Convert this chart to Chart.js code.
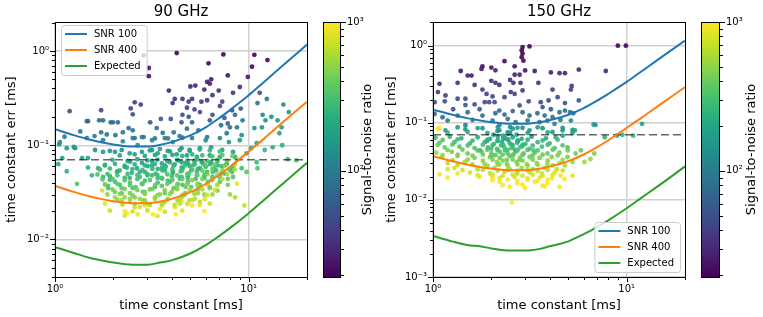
<!DOCTYPE html>
<html>
<head>
<meta charset="utf-8">
<script src="https://cdn.jsdelivr.net/npm/chart.js@4.4.0/dist/chart.umd.min.js"></script>
<style>
  body { margin: 0; background: #fff; }
  #wrap { position: relative; width: 763px; height: 317px; overflow: hidden; }
  #wrap canvas { position: absolute; top: 0; }
</style>
</head>
<body>
<div id="wrap">
  <canvas id="main90" width="320" height="317" style="left:0px"></canvas>
  <canvas id="main150" width="320" height="317" style="left:380px"></canvas>
  <canvas id="cbar90" width="80" height="317" style="left:300px"></canvas>
  <canvas id="cbar150" width="83" height="317" style="left:680px"></canvas>
</div>
<script>
// ========== DONNÉES ==========
const timeGrid = [1, 1.25, 1.5, 1.75, 2, 2.5, 3, 3.5, 4, 5, 6, 7, 8, 10, 12, 15, 20];
const snr100Err = [0.148, 0.128, 0.115, 0.107, 0.102, 0.097, 0.097, 0.101, 0.108, 0.127, 0.155, 0.192, 0.236, 0.339, 0.47, 0.70, 1.17];
const snr400Err = [0.037, 0.032, 0.0288, 0.0268, 0.0255, 0.0243, 0.0243, 0.0253, 0.027, 0.0318, 0.0388, 0.048, 0.059, 0.086, 0.1175, 0.175, 0.29];
const expected90 = [0.0083, 0.0072, 0.0064, 0.006, 0.0057, 0.0054, 0.0054, 0.0057, 0.006, 0.0071, 0.0087, 0.0108, 0.0132, 0.019, 0.0263, 0.039, 0.065];
const expected150 = [0.0034, 0.0029, 0.0026, 0.0025, 0.00235, 0.0022, 0.0022, 0.0023, 0.0025, 0.0029, 0.0036, 0.0044, 0.0054, 0.0078, 0.0108, 0.016, 0.0272];
const dashedLevel = 0.07;

const xTicks = [1, 10];
const yTicks90 = [0.01, 0.1, 1];
const yTicks150 = [0.001, 0.01, 0.1, 1];
const cbarTicks = [100, 1000];
const snrMin = 19.3;
const snrMax = 1000;

// [time constant, err, SNR]
const points90 = [
  [2.87,0.90,20],[4.25,0.95,20],[3.05,0.66,22],[3.05,0.54,24],[3.87,0.38,28],[4.15,0.31,32],[4.05,0.28,34],[2.58,0.285,38],
  [2.77,0.27,38],[2.46,0.246,42],[2.52,0.213,48],[1.19,0.23,55],[1.73,0.235,50],[1.48,0.18,72],[1.77,0.184,72],[1.94,0.175,74],
  [2.11,0.175,74],[3.1,0.175,58],[3.52,0.19,55],[3.96,0.19,55],[3.35,0.152,84],[2.52,0.144,86],[2.24,0.137,90],[1.85,0.13,94],
  [2.81,0.122,96],[3.28,0.118,98],[4.1,0.137,90],[3.83,0.118,98],
  [7.4,0.92,20],[10.7,0.91,20],[12.5,0.80,21],[6.2,0.74,21],[10.4,0.68,22],[7.8,0.55,24],[6.4,0.50,25],[9.9,0.53,25],
  [6.1,0.47,26],[6.3,0.45,27],[5.3,0.43,28],[5.0,0.42,28],[9.0,0.415,32],[5.9,0.39,30],[7.0,0.38,31],[8.3,0.36,34],
  [6.5,0.34,34],[11.4,0.36,45],[4.55,0.31,35],[4.9,0.29,36],[5.1,0.31,35],[5.7,0.29,37],[6.1,0.30,36],[7.3,0.29,40],
  [4.8,0.25,42],[5.25,0.24,43],[5.6,0.225,46],[7.1,0.26,44],[8.2,0.235,52],[9.1,0.245,55],[11.1,0.28,84],[12.4,0.31,90],
  [15.1,0.27,138],[16.1,0.225,160],[4.55,0.21,48],[4.9,0.20,50],[6.5,0.21,52],[7.5,0.195,58],[8.5,0.21,72],[4.5,0.175,56],
  [5.1,0.175,58],[6.3,0.184,58],[7.8,0.17,78],[9.3,0.184,90],[11.8,0.21,130],[12.2,0.184,145],[13.1,0.20,145],[14.1,0.184,160],
  [4.8,0.15,79],[5.5,0.144,84],[7.2,0.163,79],[8.7,0.155,94],[10.7,0.152,145],[11.7,0.155,152],[14.8,0.155,188],[14.4,0.134,203],
  [7.7,0.134,96],[9.2,0.128,138],[8.0,0.155,86],[6.1,0.122,98],
  [1.05,0.102,138],[1.25,0.096,145],[1.46,0.18,74],[1.69,0.184,72],[1.73,0.137,90],[1.99,0.175,74],[2.4,0.152,82],[2.52,0.119,102],
  [2.87,0.122,98],[1.12,0.123,96],[1.35,0.14,86],[1.6,0.125,96],[2.05,0.128,94],[3.6,0.135,90],[4.4,0.125,96],
  [1.06,0.108,130],[1.46,0.119,102],[1.77,0.113,106],[2.24,0.11,130],[2.58,0.119,102],[3.17,0.113,106],[3.69,0.119,102],[4.05,0.108,133],
  [2.67,0.1,138],[1.15,0.093,145],[1.27,0.093,145],[1.61,0.089,152],[1.77,0.085,160],[1.92,0.087,160],[2.04,0.085,160],[2.21,0.089,152],
  [2.43,0.082,167],[2.81,0.085,160],[3.17,0.089,152],[3.39,0.082,167],[3.82,0.087,160],[4.25,0.080,171],[1.09,0.073,181],[1.38,0.073,181],
  [1.48,0.073,181],[1.04,0.063,218],[1.15,0.053,247],[1.30,0.039,334],[1.48,0.058,218],[1.55,0.048,254],[1.67,0.057,218],[1.81,0.061,203],
  [1.77,0.046,254],[1.92,0.043,268],[1.88,0.035,334],[2.09,0.052,232],[2.16,0.038,305],[2.21,0.031,377],[2.35,0.058,203],[2.43,0.045,254],
  [2.52,0.035,319],[2.58,0.028,435],[2.74,0.052,225],[2.81,0.039,290],[2.84,0.032,363],[2.91,0.026,479],[3.0,0.048,239],[3.17,0.061,203],
  [3.28,0.036,319],[3.39,0.045,261],[3.56,0.057,218],[3.69,0.031,392],[3.92,0.041,290],[4.05,0.052,239],[4.15,0.035,754],[4.3,0.026,551],
  [1.75,0.033,754],[1.81,0.024,899],[2.29,0.020,1000],[2.35,0.019,1000],[2.67,0.0185,943],[3.2,0.0185,1000],[4.2,0.0185,1000],[2.91,0.023,812],
  [3.56,0.023,682],[2.21,0.026,609],[2.04,0.028,551],[2.58,0.022,754],
  [4.55,0.12,98],[5.1,0.119,102],[6.0,0.113,133],[7.1,0.119,138],[7.9,0.108,160],[9.0,0.113,174],[11.0,0.105,203],[12.1,0.089,247],
  [13.3,0.095,232],[14.9,0.1,232],[4.5,0.093,145],[4.95,0.089,152],[5.6,0.093,152],[6.4,0.095,160],[7.3,0.089,174],[8.3,0.085,189],
  [9.75,0.082,218],[10.3,0.093,203],[4.8,0.078,174],[5.4,0.075,181],[6.3,0.078,181],[7.1,0.075,196],[8.5,0.075,218],[15.9,0.071,319],
  [17.6,0.069,363],[11.0,0.066,290],[11.1,0.057,334],[4.5,0.066,196],[4.85,0.064,203],[5.25,0.068,196],[5.8,0.064,210],[6.4,0.066,218],
  [6.9,0.061,232],[7.7,0.064,247],[8.3,0.058,276],[9.2,0.057,305],[9.75,0.052,348],[4.55,0.057,225],[5.05,0.054,239],[5.6,0.057,232],
  [6.1,0.052,261],[6.8,0.054,261],[7.5,0.050,290],[8.3,0.046,334],[4.5,0.046,261],[4.85,0.045,276],[5.4,0.048,276],[5.9,0.045,290],
  [6.5,0.046,305],[7.1,0.041,348],[7.8,0.038,406],[8.7,0.039,870],[4.55,0.038,319],[5.05,0.036,363],[5.6,0.038,363],[6.3,0.036,406],
  [6.9,0.033,464],[4.7,0.031,435],[5.25,0.031,479],[5.9,0.030,508],[6.5,0.030,537],[4.95,0.026,609],[5.6,0.025,667],[6.3,0.024,725],
  [4.5,0.025,899],[5.1,0.023,957],[5.9,0.020,1000],[8.0,0.030,551],[8.5,0.028,609],[9.5,0.023,696],
  [2.44,0.067,189],[2.81,0.065,189],[3.17,0.068,189],[3.56,0.064,196],[3.92,0.066,203],[4.3,0.069,196],[4.73,0.065,203],[5.2,0.062,218],
  [5.71,0.067,210],[6.3,0.063,225],[6.9,0.068,232],[7.6,0.062,254],
  [2.29,0.059,210],[2.65,0.057,218],[3.01,0.060,210],[3.39,0.056,225],[3.73,0.059,218],[4.1,0.061,218],[4.51,0.058,232],[4.96,0.060,232],
  [5.46,0.056,247],[6.0,0.059,247],[6.6,0.057,261],[7.25,0.060,268],[7.98,0.055,290],
  [2.11,0.053,232],[2.49,0.051,239],[2.91,0.052,239],[3.31,0.050,247],[3.69,0.054,239],[4.06,0.051,254],[4.46,0.053,254],[4.9,0.050,268],
  [5.4,0.052,268],[5.93,0.049,290],[6.53,0.052,290],[7.18,0.050,312],[8.2,0.052,319],
  [1.92,0.047,254],[2.29,0.045,268],[2.74,0.046,268],[3.17,0.048,261],[3.56,0.045,276],[4.01,0.047,276],[4.41,0.044,297],[4.85,0.047,290],
  [5.33,0.044,312],[5.87,0.046,319],[6.45,0.043,341],[7.09,0.046,341],[7.8,0.044,377],
  [2.04,0.041,290],[2.44,0.040,305],[2.91,0.042,297],[3.39,0.040,312],[3.82,0.042,312],[4.3,0.039,334],[4.85,0.041,341],[5.46,0.039,363],
  [6.15,0.041,377],[6.9,0.038,413],
  [1.88,0.037,334],[2.21,0.035,355],[2.61,0.036,348],[3.09,0.034,377],[3.56,0.037,355],[4.1,0.035,384],[4.73,0.036,392],[5.46,0.034,435],
  [6.3,0.035,450],
  [2.04,0.032,406],[2.44,0.031,435],[2.91,0.032,421],[3.48,0.030,464],[4.01,0.032,450],[4.68,0.030,493],[5.46,0.031,508],
  [2.29,0.028,522],[2.74,0.027,551],[3.28,0.028,537],[3.82,0.027,580],[4.51,0.028,580],[5.27,0.027,638],
  [2.44,0.025,624],[3.01,0.024,682],[3.69,0.025,667],[4.41,0.024,725],[2.74,0.022,812],[3.48,0.021,899],[4.15,0.022,870],
  [3.09,0.088,161],[3.48,0.091,162],[3.92,0.086,180],[4.41,0.089,189],[4.96,0.087,210],[5.59,0.090,228],[6.30,0.088,264],[7.09,0.086,312],
  [2.16,0.078,183],[2.58,0.080,175],[2.91,0.077,183],[3.28,0.079,181],[3.69,0.076,199],[4.04,0.079,199],[4.54,0.077,220],[5.11,0.080,235],
  [5.76,0.078,270],[6.49,0.076,319],[7.31,0.079,360],[8.23,0.077,428],
  [1.98,0.070,212],[2.37,0.068,207],[2.66,0.071,199],[3.0,0.069,204],[3.38,0.0705,204],[3.80,0.068,225],[4.28,0.070,232],[4.82,0.0685,258],
  [5.43,0.071,278],[6.11,0.068,326],[6.88,0.070,370],[7.75,0.0685,442],[8.73,0.070,500],
  [1.81,0.062,246],[2.04,0.0635,229],[2.29,0.0608,233],[2.58,0.0628,223],[2.91,0.061,231],[3.28,0.0632,228],[3.69,0.0612,246],[4.15,0.0625,255],
  [4.68,0.0605,287],[5.27,0.063,306],[5.93,0.0615,354],[6.68,0.0622,400],[7.52,0.0608,477],[8.47,0.0628,536],
  [1.71,0.055,284],[1.92,0.0565,262],[2.16,0.054,265],[2.51,0.0558,252],[2.83,0.0545,258],[3.18,0.056,254],[3.58,0.054,273],[4.04,0.0562,278],
  [4.54,0.0542,307],[5.11,0.0555,331],[5.76,0.0538,380],[6.49,0.056,435],[7.31,0.0545,515],[8.47,0.0552,609],
  [1.657,0.049,326],[1.865,0.0498,305],[2.10,0.048,302],[2.37,0.0495,284],[2.66,0.0482,291],[3.0,0.0497,284],[3.38,0.0483,297],[3.80,0.0492,307],
  [4.28,0.0478,338],[4.82,0.0495,355],[5.43,0.0485,406],[6.11,0.0492,452],[6.88,0.048,529],[7.75,0.0495,602],
  [1.76,0.0433,355],[1.98,0.044,336],[2.29,0.0425,334],[2.66,0.0438,320],[3.09,0.0428,332],[3.58,0.0442,334],[4.04,0.0427,367],[4.54,0.0436,389],
  [5.11,0.0426,435],[5.76,0.0437,471],[6.49,0.0428,558],[7.31,0.0438,631],
  [1.81,0.0383,399],[2.10,0.039,374],[2.44,0.0377,373],[2.83,0.0388,363],[3.28,0.0378,380],[3.80,0.0387,394],[4.28,0.0376,435],[4.82,0.0386,461],
  [5.43,0.0377,522],[6.11,0.0385,577],[6.88,0.0378,674],
  [1.98,0.0339,435],[2.29,0.0345,412],[2.66,0.0334,421],[3.18,0.0343,415],[3.69,0.0333,452],[4.28,0.0342,476],[4.96,0.0334,548],[5.76,0.0341,606],
  [6.68,0.0335,747],
  [1.865,0.030,508],[2.16,0.0305,471],[2.51,0.0296,476],[2.91,0.0304,464],[3.38,0.0296,493],[3.92,0.0303,513],[4.54,0.0297,571],[5.27,0.0303,631],
  [6.11,0.0297,747],
  [2.10,0.0266,544],[2.44,0.027,522],[2.83,0.0262,537],[3.28,0.0269,534],[3.80,0.0263,580],[4.41,0.0268,621],[5.11,0.0262,711],[5.93,0.0268,805],
  [2.23,0.0235,609],[2.58,0.0239,589],[3.09,0.0232,612],[3.58,0.0238,616],[4.15,0.0233,689],[4.82,0.0238,747],[5.59,0.0232,885],
  [1.92,0.0202,732],[2.51,0.0198,711],[3.0,0.0203,700],[3.69,0.0197,766],[4.54,0.0202,827],[2.29,0.018,812],[3.38,0.0178,819]
];

const points150 = [
  [2.9,0.96,19.5],[2.87,0.87,20],[2.9,0.79,20],[2.87,0.71,21],[2.93,0.64,22],[3.15,0.98,20],[2.99,0.478,24],[2.34,0.63,22],
  [1.8,0.54,24],[1.78,0.5,25],[2.0,0.52,25],[2.64,0.54,24],[1.39,0.47,26],[1.51,0.41,28],[1.58,0.41,28],[2.1,0.48,27],
  [3.35,0.47,26],[2.64,0.42,28],[2.8,0.42,28],[2.5,0.36,31],[1.34,0.33,33],[1.64,0.31,34],[2.0,0.35,32],[2.1,0.33,33],
  [2.2,0.31,34],[2.6,0.33,33],[2.83,0.33,33],[3.5,0.33,33],[4.06,0.45,27],[1.08,0.32,34],[1.06,0.25,38],[1.16,0.226,40],
  [1.8,0.27,38],[1.89,0.237,40],[2.03,0.22,42],[2.52,0.25,38],[2.64,0.237,40],[2.9,0.263,38],[2.34,0.215,42],[1.34,0.205,45],
  [1.47,0.205,45],[3.12,0.19,45],[3.6,0.185,46],[3.95,0.195,44],[1.02,0.185,48],[1.15,0.19,48],[1.85,0.185,48],[1.95,0.185,48],
  [2.08,0.185,48],[1.64,0.173,50],[1.47,0.17,52],[2.8,0.168,52],[3.68,0.16,55],[1.27,0.15,58],[1.74,0.15,56],[2.2,0.144,72],
  [2.58,0.142,72],[4.06,0.15,58],[1.02,0.13,74],[1.12,0.118,78],[1.34,0.124,78],[1.51,0.137,74],[1.8,0.124,79],[2.1,0.133,78],
  [2.34,0.128,78],[2.9,0.137,74],[3.15,0.124,82],[3.46,0.133,79],[3.77,0.124,82],[4.14,0.118,84],[1.19,0.107,90],[1.6,0.109,90],
  [2.03,0.107,90],[2.43,0.112,86],[2.67,0.102,94],[3.08,0.107,90],[3.55,0.102,94],[3.9,0.107,90],[4.24,0.097,96],[2.2,0.093,102],
  [2.5,0.088,128],[2.9,0.086,130],[1.47,0.093,102],[1.08,0.085,1000],[1.34,0.088,870],
  [9.0,1.0,20],[9.9,1.0,20],[4.5,0.44,28],[4.8,0.44,28],[5.66,0.49,27],[7.8,0.47,30],[5.2,0.30,38],[5.15,0.27,40],
  [4.14,0.27,38],[4.4,0.215,45],[4.8,0.18,52],[5.66,0.195,55],[4.5,0.137,82],[4.8,0.144,79],[5.1,0.137,84],[5.3,0.133,86],
  [5.15,0.107,130],[4.55,0.109,102],[6.9,0.094,160],[12.0,0.097,189],[5.25,0.081,160],[4.67,0.086,145],[6.75,0.095,160],[8.9,0.068,247],
  [10.8,0.068,276],[9.5,0.07,254],
  [1.16,0.08,160],[1.47,0.082,145],[1.8,0.085,138],[2.2,0.08,145],[2.58,0.084,138],[3.15,0.08,145],[3.68,0.085,138],[4.14,0.076,160],
  [1.06,0.084,943],
  [1.03,0.064,290],[1.22,0.066,247],[1.40,0.063,232],[1.70,0.065,203],[1.97,0.062,203],[2.16,0.066,189],[2.37,0.063,196],[2.58,0.065,189],
  [2.87,0.062,203],[3.23,0.066,196],[3.83,0.063,218],[4.3,0.065,232],
  [1.08,0.055,348],[1.29,0.056,290],[1.55,0.054,261],[1.85,0.056,239],[2.06,0.053,247],[2.27,0.056,232],[2.49,0.054,239],[2.72,0.055,239],
  [3.0,0.053,254],[3.47,0.056,254],[4.0,0.054,276],
  [1.15,0.048,406],[1.37,0.049,348],[1.64,0.047,319],[1.92,0.048,297],[2.14,0.046,305],[2.33,0.049,283],[2.55,0.047,290],[2.81,0.048,290],
  [3.15,0.046,312],[3.65,0.049,305],[4.25,0.047,341],
  [1.04,0.041,522],[1.25,0.042,435],[1.51,0.040,406],[1.78,0.042,355],[2.0,0.040,355],[2.21,0.042,341],[2.43,0.040,348],[2.67,0.042,341],
  [2.94,0.040,355],[3.35,0.041,370],[3.9,0.040,392],[4.5,0.041,421],
  [1.11,0.036,580],[1.34,0.037,493],[1.64,0.035,450],[1.97,0.036,406],[2.21,0.035,406],[2.49,0.037,384],[2.81,0.035,406],[3.15,0.036,413],
  [3.55,0.035,435],[4.1,0.036,450],
  [1.19,0.030,667],[1.46,0.031,580],[1.85,0.029,522],[2.14,0.031,479],[2.41,0.029,493],[2.7,0.031,464],[3.05,0.029,508],[3.43,0.030,508],
  [3.9,0.029,551],[4.5,0.030,580],
  [1.29,0.026,754],[1.7,0.025,638],[2.08,0.026,566],[2.49,0.025,580],[2.87,0.026,551],[3.27,0.025,609],[3.77,0.026,624],[4.36,0.025,696],
  [1.55,0.0226,783],[1.97,0.022,696],[2.34,0.0232,638],[2.72,0.022,682],[3.15,0.0228,667],[3.65,0.022,754],[4.25,0.0225,812],
  [1.19,0.0195,1000],[1.74,0.020,899],[2.21,0.0192,841],[2.64,0.0198,812],[3.08,0.019,870],[3.55,0.0195,899],[4.1,0.019,986],
  [2.21,0.017,1000],[2.72,0.0165,1000],[3.35,0.0172,1000],[3.9,0.0166,1000],[2.49,0.0148,1000],[2.98,0.0143,1000],[3.77,0.015,1000],
  [2.55,0.0093,1000],[1.08,0.0214,943],[1.19,0.025,812],[1.34,0.022,899],[2.03,0.0195,1000],
  [2.05,0.07,174],[2.15,0.058,218],[2.25,0.051,247],[2.35,0.044,290],[2.45,0.06,203],[2.55,0.052,239],[2.65,0.045,268],[2.75,0.058,218],
  [2.3,0.068,181],[2.5,0.075,167],[2.7,0.07,181],[2.0,0.046,290],[2.1,0.038,363],[2.6,0.039,348],[2.4,0.033,421],[2.8,0.033,435],
  [2.2,0.029,493],[2.3,0.062,203],[1.9,0.058,218],[2.9,0.05,268],[1.75,0.044,312],[3.3,0.044,334],[2.45,0.072,171],[2.15,0.078,160],
  [4.67,0.068,189],[5.25,0.074,181],[5.4,0.08,167],[4.67,0.08,160],[7.7,0.065,247],[5.8,0.044,377],[6.5,0.034,522],[6.8,0.04,464],
  [4.95,0.048,334],[4.95,0.036,435],[5.45,0.04,421],[5.25,0.031,551],[4.8,0.028,609],[4.56,0.0207,943],[4.78,0.0187,1000],[5.25,0.0207,899],
  [4.5,0.0147,1000],[6.05,0.031,580],
  [1.34,0.087,203],[1.70,0.0855,183],[2.16,0.088,165],[2.73,0.086,164],[3.47,0.0875,165],
  [1.19,0.0747,257],[1.51,0.076,218],[1.91,0.0735,204],[2.43,0.0755,189],[3.08,0.074,190],[3.91,0.0752,206],
  [1.122,0.0598,341],[1.34,0.061,290],[1.60,0.0588,273],[1.91,0.0605,249],[2.16,0.059,245],[2.43,0.0608,233],[2.73,0.0592,238],[3.08,0.0603,233],
  [3.68,0.059,254],[4.40,0.0604,278],
  [1.057,0.0515,409],[1.26,0.0522,352],[1.51,0.0508,325],[1.81,0.052,294],[2.03,0.051,290],[2.29,0.0523,273],[2.58,0.0509,276],[2.90,0.0521,270],
  [3.27,0.0507,283],[3.91,0.0519,299],[4.67,0.0511,344],
  [1.19,0.0443,432],[1.42,0.045,374],[1.70,0.0437,358],[1.91,0.0448,336],[2.16,0.0438,331],[2.43,0.0449,316],[2.73,0.0436,322],[3.08,0.0447,315],
  [3.47,0.0438,331],[4.15,0.0448,358],[4.96,0.0437,421],
  [1.122,0.0381,537],[1.34,0.0387,464],[1.60,0.0375,428],[1.81,0.0386,394],[2.03,0.0376,389],[2.29,0.0387,370],[2.58,0.0376,374],[2.90,0.0385,365],
  [3.27,0.0377,381],[3.68,0.0386,394],[4.40,0.0377,450],
  [1.26,0.0328,580],[1.51,0.0333,508],[1.81,0.0323,479],[2.03,0.0332,450],[2.29,0.0324,442],[2.58,0.0333,429],[2.90,0.0324,442],[3.27,0.0332,442],
  [3.91,0.0323,486],[4.67,0.0331,537],
  [1.34,0.0283,653],[1.60,0.0288,580],[1.91,0.0279,551],[2.16,0.0287,522],[2.43,0.0279,522],[2.73,0.0287,508],[3.08,0.0279,522],[3.47,0.0286,522],
  [4.15,0.028,580],
  [1.42,0.0243,754],[1.81,0.0247,653],[2.16,0.024,624],[2.43,0.0246,595],[2.73,0.0239,609],[3.08,0.0246,595],[3.47,0.0239,624],[3.91,0.0245,653],
  [4.67,0.024,740],
  [1.70,0.0209,841],[2.03,0.0213,783],[2.29,0.0206,769],[2.58,0.0212,754],[2.90,0.0206,769],[3.27,0.0212,754],[3.68,0.0206,812],[4.15,0.0211,856],
  [2.03,0.018,1000],[2.43,0.0183,986],[2.73,0.0177,1000],[3.08,0.0182,986],[3.47,0.0177,1000],[3.91,0.0182,1000],
  [2.29,0.0155,1000],[2.90,0.0158,1000],[3.68,0.0153,1000]
];

// ========== UTILITAIRES ==========
Chart.defaults.font.family = "'DejaVu Sans', sans-serif";
Chart.defaults.color = "#000";
Chart.defaults.animation = false;

const VIRIDIS = ["#440154", "#482475", "#414487", "#355f8d", "#2a788e", "#21918c",
  "#22a884", "#44bf70", "#7ad151", "#bddf26", "#fde725"];

function hexRgb(h) {
  return [1, 3, 5].map((i) => parseInt(h.substr(i, 2), 16));
}

function snrColor(v, alpha) {
  let t = (Math.log10(v) - Math.log10(snrMin)) / (Math.log10(snrMax) - Math.log10(snrMin));
  t = Math.min(1, Math.max(0, t));
  const f = t * 10;
  const i = Math.min(9, Math.floor(f));
  const k = f - i;
  const a = hexRgb(VIRIDIS[i]);
  const b = hexRgb(VIRIDIS[i + 1]);
  const c = a.map((x, j) => Math.round(x + (b[j] - x) * k));
  return `rgba(${c[0]},${c[1]},${c[2]},${alpha})`;
}

const SUP = { "-": "\u207b", "0": "\u2070", "1": "\u00b9", "2": "\u00b2", "3": "\u00b3" };
function powLabel(v) {
  const l = Math.log10(v);
  const r = Math.round(l);
  if (Math.abs(l - r) > 1e-6) return "";
  return "10" + String(r).split("").map((c) => SUP[c]).join("");
}

function logMarks(min, max) {
  const out = [];
  for (let e = Math.floor(Math.log10(min)); e <= Math.ceil(Math.log10(max)); e++) {
    for (let d = 1; d < 10; d++) {
      const v = d * Math.pow(10, e);
      if (v >= min * 0.999 && v <= max * 1.001) out.push({ v, major: d === 1 });
    }
  }
  return out;
}

// cadre noir + graduations façon matplotlib
const frameTicks = {
  id: "frameTicks",
  afterDatasetsDraw(chart, args, opts) {
    const { ctx, chartArea: a, scales } = chart;
    const L = Math.round(a.left), R = Math.round(a.right);
    const T = Math.round(a.top), B = Math.round(a.bottom);
    ctx.save();
    ctx.strokeStyle = "#000";
    ctx.lineWidth = 1;
    ctx.strokeRect(L + 0.5, T + 0.5, R - L, B - T);
    (opts.sides || []).forEach(({ axis, side }) => {
      const s = scales[axis];
      logMarks(s.min, s.max).forEach(({ v, major }) => {
        const p = Math.round(s.getPixelForValue(v)) + 0.5;
        const len = major ? 5 : 3;
        ctx.beginPath();
        if (side === "bottom") { ctx.moveTo(p, B); ctx.lineTo(p, B + len); }
        if (side === "left") { ctx.moveTo(L, p); ctx.lineTo(L - len, p); }
        if (side === "right") { ctx.moveTo(R + 1, p); ctx.lineTo(R + 1 + len, p); }
        ctx.stroke();
      });
    });
    ctx.restore();
  },
};

// légende encadrée dans la zone du graphe
const boxLegend = {
  id: "boxLegend",
  afterDraw(chart, args, opts) {
    if (!opts.corner) return;
    const { ctx, chartArea: a } = chart;
    const items = chart.data.datasets.filter((d) => d.inLegend);
    ctx.save();
    ctx.font = "10px 'DejaVu Sans'";
    const tw = Math.max(...items.map((d) => ctx.measureText(d.label).width));
    const w = 4 + 22 + 8 + tw + 5;
    const h = items.length * 16 + 2;
    const x = opts.corner === "tl" ? a.left + 6 : a.right - 5 - w;
    const y = opts.corner === "tl" ? a.top + 3 : a.bottom - 5 - h;
    ctx.beginPath();
    if (ctx.roundRect) ctx.roundRect(x + 0.5, y + 0.5, w, h, 3);
    else ctx.rect(x + 0.5, y + 0.5, w, h);
    ctx.fillStyle = "rgba(255,255,255,0.8)";
    ctx.fill();
    ctx.strokeStyle = "#cccccc";
    ctx.lineWidth = 1;
    ctx.stroke();
    items.forEach((d, i) => {
      const cy = y + 9 + i * 16;
      ctx.strokeStyle = d.borderColor;
      ctx.lineWidth = 2;
      ctx.beginPath();
      ctx.moveTo(x + 4, cy);
      ctx.lineTo(x + 26, cy);
      ctx.stroke();
      ctx.fillStyle = "#000";
      ctx.textBaseline = "middle";
      ctx.textAlign = "left";
      ctx.fillText(d.label, x + 33, cy + 0.5);
    });
    ctx.restore();
  },
};

// dégradé viridis + libellé vertical de la barre de couleur
const colorbar = {
  id: "colorbar",
  beforeDatasetsDraw(chart) {
    const { ctx, chartArea: a, scales } = chart;
    const y = scales.y;
    for (let py = Math.floor(a.top); py < Math.ceil(a.bottom); py++) {
      ctx.fillStyle = snrColor(y.getValueForPixel(py + 0.5), 1);
      ctx.fillRect(a.left, py, a.right - a.left, 1);
    }
  },
  afterDraw(chart, args, opts) {
    const { ctx, chartArea: a } = chart;
    ctx.save();
    ctx.translate(opts.labelX, (a.top + a.bottom) / 2);
    ctx.rotate(-Math.PI / 2);
    ctx.font = "13px 'DejaVu Sans'";
    ctx.fillStyle = "#000";
    ctx.textAlign = "center";
    ctx.textBaseline = "middle";
    ctx.fillText(opts.text, 0, 0);
    ctx.restore();
  },
};

function lineSet(label, values, color) {
  return {
    label,
    inLegend: true,
    data: timeGrid.map((t, i) => ({ x: t, y: values[i] })),
    showLine: true,
    borderColor: color,
    borderWidth: 2,
    pointRadius: 0,
    cubicInterpolationMode: "monotone",
  };
}

function panelChart(id, cfg) {
  return new Chart(document.getElementById(id), {
    type: "scatter",
    data: {
      datasets: [
        lineSet("SNR 100", snr100Err, "#1f77b4"),
        lineSet("SNR 400", snr400Err, "#ff7f0e"),
        lineSet("Expected", cfg.expected, "#2ca02c"),
        {
          label: "seuil",
          data: [{ x: 1, y: dashedLevel }, { x: 20, y: dashedLevel }],
          showLine: true,
          borderColor: "rgba(0,0,0,0.6)",
          borderDash: [8, 4],
          borderWidth: 1.5,
          pointRadius: 0,
        },
        {
          label: "mesures",
          data: cfg.points.map((p) => ({ x: p[0], y: p[1] })),
          showLine: false,
          pointRadius: 2.4,
          pointBorderWidth: 0,
          pointBackgroundColor: cfg.points.map((p) => snrColor(p[2], 0.9)),
        },
      ],
    },
    options: {
      responsive: false,
      devicePixelRatio: 1,
      events: [],
      layout: { padding: { right: cfg.padRight, left: 0, top: 0, bottom: 0 } },
      plugins: {
        legend: { display: false },
        tooltip: { enabled: false },
        title: {
          display: true,
          text: cfg.title,
          fullSize: false,
          color: "#000",
          font: { size: 15, weight: "normal" },
          padding: { top: 3, bottom: 1 },
        },
        boxLegend: { corner: cfg.corner },
        frameTicks: { sides: [{ axis: "x", side: "bottom" }, { axis: "y", side: "left" }] },
      },
      scales: {
        x: {
          type: "logarithmic",
          min: 1,
          max: 20,
          afterBuildTicks: (s) => { s.ticks = xTicks.map((v) => ({ value: v })); },
          afterFit: (s) => { s.height = 40; },
          ticks: { callback: (v) => powLabel(v), font: { size: 10 }, padding: 6, maxRotation: 0, autoSkip: false, color: "#000" },
          grid: { color: "#d0d0d0", lineWidth: 1.4, drawTicks: false },
          border: { display: false },
          title: { display: true, text: "time constant [ms]", color: "#000", font: { size: 13 }, padding: { top: 0, bottom: 4 } },
        },
        y: {
          type: "logarithmic",
          min: cfg.yMin,
          max: 2.03,
          afterBuildTicks: (s) => { s.ticks = cfg.yTicks.map((v) => ({ value: v })); },
          afterFit: (s) => { s.width = cfg.yWidth; },
          ticks: { callback: (v) => powLabel(v), font: { size: 10 }, padding: 6, autoSkip: false, color: "#000" },
          grid: { color: "#d0d0d0", lineWidth: 1.4, drawTicks: false },
          border: { display: false },
          title: { display: true, text: "time constant err [ms]", color: "#000", font: { size: 13 }, padding: { top: 4, bottom: 0 } },
        },
      },
    },
    plugins: [frameTicks, boxLegend],
  });
}

function colorbarChart(id, cfg) {
  return new Chart(document.getElementById(id), {
    type: "scatter",
    data: { datasets: [] },
    options: {
      responsive: false,
      devicePixelRatio: 1,
      events: [],
      layout: { padding: { left: cfg.padLeft, top: 22, bottom: 40, right: 0 } },
      plugins: {
        legend: { display: false },
        tooltip: { enabled: false },
        colorbar: { text: "Signal-to-noise ratio", labelX: cfg.labelX },
        frameTicks: { sides: [{ axis: "y", side: "right" }] },
      },
      scales: {
        x: { display: false, min: 0, max: 1 },
        y: {
          type: "logarithmic",
          position: "right",
          min: snrMin,
          max: snrMax,
          afterBuildTicks: (s) => { s.ticks = cbarTicks.map((v) => ({ value: v })); },
          afterFit: (s) => { s.width = cfg.axisWidth; },
          ticks: { callback: (v) => powLabel(v), font: { size: 10 }, padding: 7, color: "#000" },
          grid: { display: false, drawTicks: false },
          border: { display: false },
        },
      },
    },
    plugins: [colorbar, frameTicks],
  });
}

// ========== INITIALISATION ==========
panelChart("main90", {
  title: "90 GHz", points: points90, expected: expected90,
  yMin: 0.004, yTicks: yTicks90, yWidth: 55, padRight: 13, corner: "tl",
});
panelChart("main150", {
  title: "150 GHz", points: points150, expected: expected150,
  yMin: 0.001, yTicks: yTicks150, yWidth: 53, padRight: 15, corner: "br",
});
colorbarChart("cbar90", { padLeft: 23, axisWidth: 40, labelX: 68 });
colorbarChart("cbar150", { padLeft: 21, axisWidth: 44, labelX: 72 });
</script>
</body>
</html>
